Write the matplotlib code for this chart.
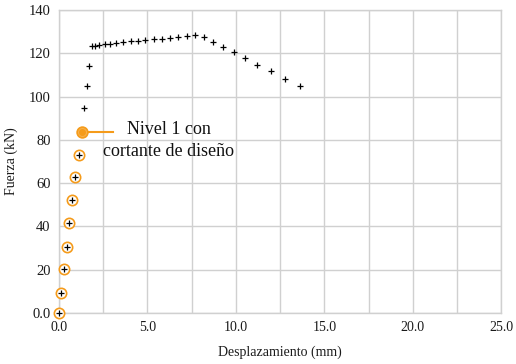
import matplotlib
matplotlib.use("Agg")
import matplotlib.pyplot as plt
from matplotlib.ticker import FixedLocator, MultipleLocator

plt.rcParams['font.family'] = ['Liberation Serif', 'DejaVu Serif']

# Load-displacement curve (mm, kN)
disp = [0.0, 0.11, 0.28, 0.45, 0.57, 0.72, 0.92, 1.11, 1.28,
        1.41, 1.56, 1.69, 1.86, 2.04, 2.28, 2.58, 2.91, 3.25, 3.64,
        4.05, 4.47, 4.89, 5.36, 5.81, 6.28, 6.74, 7.23, 7.70, 8.19,
        8.71, 9.26, 9.88, 10.49, 11.20, 11.98, 12.80, 13.65]
force = [0.0, 9.4, 20.2, 30.6, 41.4, 52.1, 62.7, 73.1, 83.6,
         94.5, 105.0, 114.1, 123.5, 123.6, 123.8, 124.1, 124.4, 124.7, 125.0,
         125.5, 125.8, 126.2, 126.4, 126.5, 127.1, 127.6, 128.1, 128.6, 127.5,
         125.4, 123.1, 120.4, 117.9, 114.7, 111.8, 108.2, 104.8]

# Elastic-range points (circled) and the design-shear level
n_elastic = 8
design_idx = 8

x_ticks = [0.0, 5.0, 10.0, 15.0, 20.0, 25.0]
x_labels = ['0.0', '5.0', '10.0', '15.0', '20.0', '25.0']
y_ticks = [0, 20, 40, 60, 80, 100, 120, 140]
y_labels = ['0.0', '20', '40', '60', '80', '100', '120', '140']

orange = '#F59B1A'

fig = plt.figure(figsize=(5.16, 3.64), dpi=100)
ax = fig.add_axes([0.1143, 0.140, 0.857, 0.8325])

ax.scatter(disp[:n_elastic], force[:n_elastic], s=55, facecolors='white',
           edgecolors=orange, linewidths=1.2, zorder=3, clip_on=False)
ax.scatter(disp, force, marker='+', s=20, color='black', linewidths=0.9,
           zorder=4, clip_on=False)

# Design shear level
xd, yd = disp[design_idx], force[design_idx]
ax.plot([xd, xd + 1.8], [yd, yd], color=orange, lw=1.5, zorder=4)
ax.scatter([xd], [yd], s=60, facecolors='#F7B04A', edgecolors=orange,
           linewidths=1.2, zorder=5)
ax.scatter([xd], [yd], s=16, color=orange, zorder=6)
ax.text(6.2, 79.8, 'Nivel 1 con\ncortante de diseño', ha='center', va='center',
        multialignment='center', fontsize=13, linespacing=1.35, color='#111111')

ax.set_xlim(0, 25)
ax.set_ylim(0, 140)
ax.xaxis.set_major_locator(FixedLocator(x_ticks))
ax.set_xticklabels(x_labels)
ax.xaxis.set_minor_locator(MultipleLocator(2.5))
ax.yaxis.set_major_locator(FixedLocator(y_ticks))
ax.set_yticklabels(y_labels)

ax.grid(True, which='both', color='#d0d0d0', lw=1.0)
ax.set_axisbelow(True)
for s in ax.spines.values():
    s.set_color('#d0d0d0')
    s.set_linewidth(1.0)
ax.tick_params(which='both', length=0, labelsize=10.5, colors='#1a1a1a', pad=6)
ax.tick_params(axis='x', labelsize=10)

ax.set_xlabel('Desplazamiento (mm)', fontsize=10, color='#1a1a1a', labelpad=8)
ax.set_ylabel('Fuerza (kN)', fontsize=10, color='#1a1a1a', labelpad=8)

fig.savefig('out.png', dpi=100)
